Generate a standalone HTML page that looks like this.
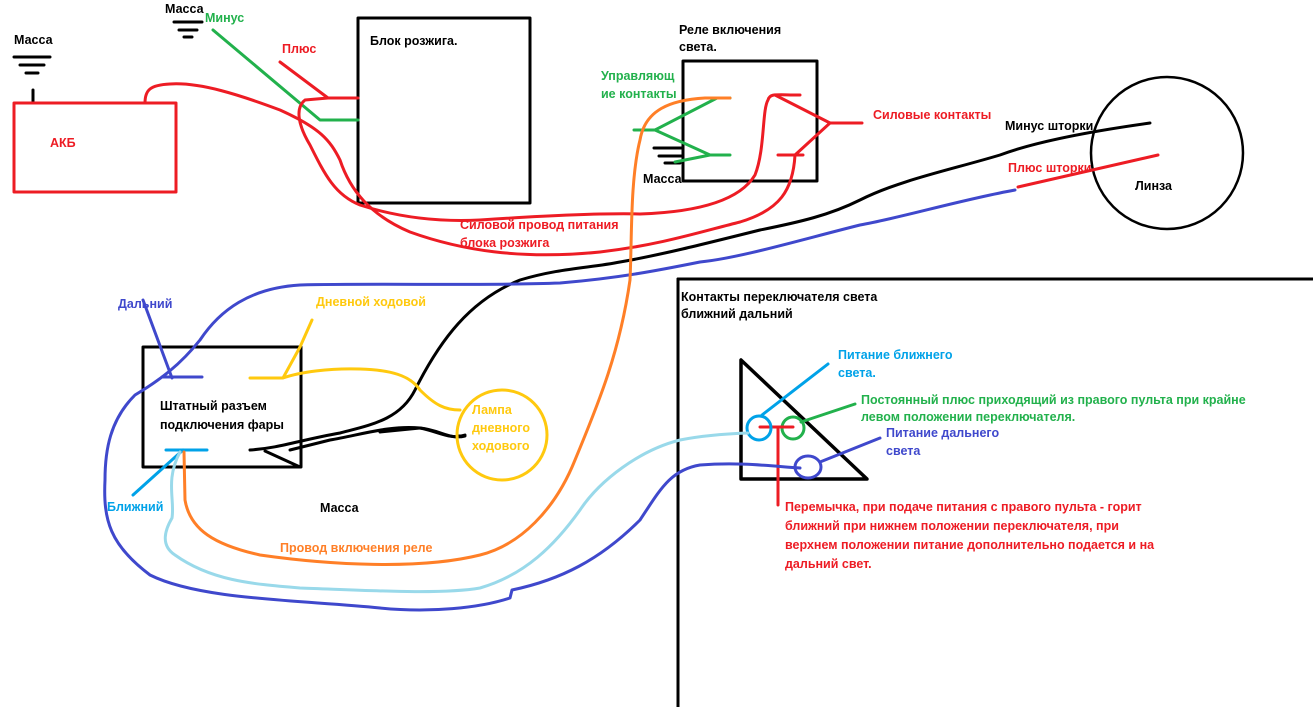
<!DOCTYPE html>
<html><head><meta charset="utf-8"><style>
html,body{margin:0;padding:0;background:#fff;}
svg{display:block;}
text{font-family:"Liberation Sans","Noto Sans CJK SC",sans-serif;font-size:12.5px;font-weight:bold;}
</style></head><body>
<svg width="1313" height="707" viewBox="0 0 1313 707" xmlns="http://www.w3.org/2000/svg" fill="none" stroke-linecap="round" stroke-linejoin="round">
<!-- grounds -->
<g stroke="#000" stroke-width="3">
<line x1="14" y1="57" x2="50" y2="57"/><line x1="20" y1="65" x2="44" y2="65"/><line x1="26" y1="73" x2="38" y2="73"/>
<line x1="33" y1="90" x2="33" y2="103"/>
<line x1="174" y1="22" x2="202" y2="22"/><line x1="179" y1="30" x2="197" y2="30"/><line x1="184" y1="37" x2="192" y2="37"/>
<line x1="654" y1="148" x2="682" y2="148"/><line x1="659" y1="156" x2="682" y2="156"/><line x1="665" y1="163" x2="680" y2="163"/>
</g>
<!-- AKB -->
<rect x="14" y="103" width="162" height="89" stroke="#ed1c24" stroke-width="3"/>
<!-- boxes -->
<rect x="358" y="18" width="172" height="185" stroke="#000" stroke-width="3"/>
<rect x="683" y="61" width="134" height="120" stroke="#000" stroke-width="3"/>
<rect x="143" y="347" width="158" height="120" stroke="#000" stroke-width="3"/>
<circle cx="1167" cy="153" r="76" stroke="#000" stroke-width="2.5"/>
<line x1="678" y1="279" x2="1313" y2="279" stroke="#000" stroke-width="3"/>
<line x1="678" y1="279" x2="678" y2="707" stroke="#000" stroke-width="3"/>
<polygon points="741,360 741,479 867,479" stroke="#000" stroke-width="3.5"/>
<!-- green lines -->
<g stroke="#22b14c" stroke-width="3">
<path d="M213 30 L320 120 L358 120"/>
<path d="M634 130 L655 130 L717 98 L730 98"/>
<path d="M655 130 L710 155 L730 155"/>
<path d="M675 162 L710 155"/>
<path d="M801 422 L855 404"/>
<circle cx="793" cy="428" r="11"/>
</g>
<!-- red -->
<g stroke="#ed1c24" stroke-width="3">
<path d="M280 62 L328 98 L358 98"/>
<path d="M328 98 L305 100 C295 108 298 125 310 145 C325 175 335 195 360 205 C400 218 440 222 480 220 C540 216 600 213 640 214 C700 212 740 200 755 175 C765 150 762 110 768 100 C770 93 775 95 800 95"/>
<path d="M145 103 C145 90 150 85 170 84 C200 82 240 95 280 110 C320 128 330 140 340 160 C350 190 370 215 410 232 C460 250 520 260 600 252 C660 245 700 232 740 222 C780 210 793 190 795 155"/>
<path d="M775 95 L830 123 L862 123"/>
<path d="M778 155 L803 155 M795 155 L830 123"/>
<path d="M1018 187 L1158 155"/>
<path d="M760 427 L793 427 M778 427 L778 505"/>
</g>
<!-- black -->
<g stroke="#000" stroke-width="3">
<path d="M1150 123 C1100 130 1040 140 1000 155 C950 170 900 180 860 200 C830 215 800 222 760 230 C700 245 660 255 620 262 C590 268 560 268 520 280 C470 300 440 340 415 390 C400 420 370 425 340 433 C300 440 280 448 250 450"/>
<path d="M290 450 L330 440 C360 435 390 425 420 428 C440 430 450 440 465 436 L458 436"/>
<path d="M265 451 L300 467"/>
<path d="M380 432 L420 428 C440 432 450 440 465 435"/>
</g>
<!-- blue -->
<g stroke="#3f48cc" stroke-width="3">
<path d="M1015 190 C960 200 900 218 860 225 C800 240 740 258 700 262 C660 270 620 278 560 283 C480 286 380 283 300 285 C250 288 220 310 200 340 C180 365 160 380 135 395 C110 420 105 450 105 480 C103 520 110 545 150 575 C200 600 300 600 380 608 C430 613 480 608 510 598 L512 590 C560 580 600 560 640 520 C660 490 670 470 700 465 C740 462 770 466 800 468"/>
<path d="M143 300 L172 378 M162 377 L202 377"/>
<path d="M820 462 L880 438"/>
<ellipse cx="808" cy="467" rx="13" ry="11"/>
</g>
<!-- light blue -->
<g stroke="#00a2e8" stroke-width="3">
<path d="M166 450 L207 450 M183 450 L133 495"/>
<path d="M762 415 L828 364"/>
<circle cx="759" cy="428" r="12"/>
</g>
<path d="M748 433 C720 434 700 436 680 440 C640 450 600 480 580 510 C555 545 525 575 480 588 C440 595 360 590 300 588 C250 584 210 580 175 555 C160 545 165 530 172 518 C175 500 165 480 180 452" stroke="#99d9ea" stroke-width="3"/>
<!-- orange -->
<path d="M730 98 L705 98 C670 100 645 110 640 140 C630 180 632 240 630 280 C620 350 600 400 575 460 C555 510 520 545 480 555 C420 570 330 565 260 555 C215 545 190 530 185 500 L184 452" stroke="#ff7f27" stroke-width="3"/>
<!-- yellow -->
<g stroke="#ffc90e" stroke-width="3">
<path d="M250 378 L283 378 L300 347 M283 378 C300 372 330 368 360 369 C390 370 410 375 420 390 C435 405 445 410 460 410"/>
<circle cx="502" cy="435" r="45"/>
<path d="M300 347 L312 320"/>
</g>
<!-- text -->
<g fill="#000">
<text x="14" y="44">Масса</text>
<text x="165" y="13">Масса</text>
<text x="370" y="45">Блок розжига.</text>
<text x="679" y="34">Реле включения</text>
<text x="679" y="51">света.</text>
<text x="643" y="183">Масса</text>
<text x="1005" y="130">Минус шторки</text>
<text x="1135" y="190">Линза</text>
<text x="681" y="301">Контакты переключателя света</text>
<text x="681" y="318">ближний дальний</text>
<text x="160" y="410">Штатный разъем</text>
<text x="160" y="429">подключения фары</text>
<text x="320" y="512">Масса</text>
</g>
<g fill="#22b14c">
<text x="205" y="22">Минус</text>
<text x="601" y="80">Управляющ</text>
<text x="601" y="98">ие контакты</text>
<text x="861" y="404">Постоянный плюс приходящий из правого пульта при крайне</text>
<text x="861" y="421">левом положении переключателя.</text>
</g>
<g fill="#ed1c24">
<text x="50" y="147">АКБ</text>
<text x="282" y="53">Плюс</text>
<text x="873" y="119">Силовые контакты</text>
<text x="1008" y="172">Плюс шторки</text>
<text x="460" y="229">Силовой провод питания</text>
<text x="460" y="247">блока розжига</text>
<text x="785" y="511">Перемычка, при подаче питания с правого пульта - горит</text>
<text x="785" y="530">ближний при нижнем положении переключателя, при</text>
<text x="785" y="549">верхнем положении питание дополнительно подается и на</text>
<text x="785" y="568">дальний свет.</text>
</g>
<g fill="#3f48cc">
<text x="118" y="308">Дальний</text>
<text x="886" y="437">Питание дальнего</text>
<text x="886" y="455">света</text>
</g>
<g fill="#00a2e8">
<text x="107" y="511">Ближний</text>
<text x="838" y="359">Питание ближнего</text>
<text x="838" y="377">света.</text>
</g>
<g fill="#ffc90e">
<text x="316" y="306">Дневной ходовой</text>
<text x="472" y="414">Лампа</text>
<text x="472" y="432">дневного</text>
<text x="472" y="450">ходового</text>
</g>
<text x="280" y="552" fill="#ff7f27">Провод включения реле</text>
</svg>
</body></html>
